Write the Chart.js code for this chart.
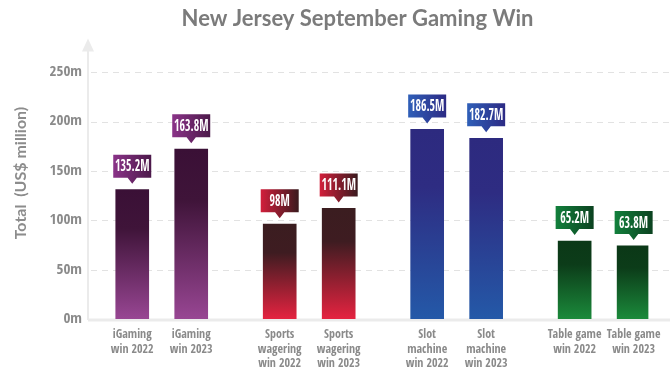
<!DOCTYPE html>
<html><head><meta charset="utf-8">
<script src="https://cdn.jsdelivr.net/npm/chart.js@4/dist/chart.umd.min.js"></script>
<style>html,body{margin:0;padding:0;background:#fff}#wrap{width:670px;height:380px;position:relative}</style>
</head><body><div id="wrap"><canvas id="c"></canvas></div>
<script>
// ---- data ----
const categories = ['', ['iGaming','win 2022'], '', ['iGaming','win 2023'], '', '',
  ['Sports','wagering','win 2022'], '', ['Sports','wagering','win 2023'], '', '',
  ['Slot','machine','win 2022'], '', ['Slot','machine','win 2023'], '', '',
  ['Table game','win 2022'], '', ['Table game','win 2023']];
const winValues = [null, 131, null, 172, null, null, 96, null, 112, null, null, 192, null, 183, null, null, 79, null, 74];
const calloutLabels = [null, '135.2M', null, '163.8M', null, null, '98M', null, '111.1M', null, null, '186.5M', null, '182.7M', null, null, '65.2M', null, '63.8M'];
const yTickValues = [0, 50, 100, 150, 200, 250];
const yTickSuffix = 'm';
const chartTitle = 'New Jersey September Gaming Win';
const yAxisTitle = 'Total  (US$ million)';

// ---- styles ----
const condFamily = '"Open Sans Condensed", "Roboto Condensed", "DejaVu Sans Condensed", sans-serif';
const groupStyles = {
  'iGaming':    {bar: ['#3a1036', '#3f1439', '#984693'], box: ['#8a3388', '#4c194a']},
  'Sports':     {bar: ['#3b1d20', '#3e1c21', '#e52340'], box: ['#d21f3b', '#3a1a1e']},
  'Slot':       {bar: ['#2d2a7f', '#2e2c82', '#2459a8'], box: ['#2f5fb8', '#2c2a84']},
  'Table game': {bar: ['#0b3817', '#0c3c19', '#1b8a3b'], box: ['#12803c', '#0b4220']}
};
function styleFor(i) {
  const c = categories[i];
  if (!Array.isArray(c)) return null;
  return groupStyles[c[0]];
}

const calloutPlugin = {
  id: 'callouts',
  beforeDatasetsDraw(chart) {
    const {ctx, chartArea: ca, scales: {y}} = chart;
    ctx.save();
    ctx.strokeStyle = '#e2e2e2';
    ctx.lineWidth = 1;
    ctx.setLineDash([6, 5]);
    yTickValues.forEach(v => {
      if (v === 0) return;
      const py = Math.round(y.getPixelForValue(v)) + 0.5;
      ctx.beginPath(); ctx.moveTo(ca.left + 3, py); ctx.lineTo(chart.width, py); ctx.stroke();
    });
    ctx.setLineDash([]);
    const by = y.getPixelForValue(0);
    ctx.strokeStyle = '#ebebeb';
    ctx.lineWidth = 3;
    ctx.beginPath(); ctx.moveTo(ca.left, by + 1); ctx.lineTo(chart.width, by + 1); ctx.stroke();
    ctx.fillStyle = '#ebebeb';
    ctx.beginPath();
    ctx.moveTo(ca.left, ca.top - 12);
    ctx.lineTo(ca.left - 6, ca.top + 1);
    ctx.lineTo(ca.left + 6, ca.top + 1);
    ctx.closePath(); ctx.fill();
    ctx.restore();
  },
  afterDatasetsDraw(chart) {
    const {ctx} = chart;
    const meta = chart.getDatasetMeta(0);
    ctx.save();
    ctx.font = 'bold 16px ' + condFamily;
    const sx = Math.min(1, 5.5 / ctx.measureText('0').width);
    meta.data.forEach((bar, i) => {
      const txt = calloutLabels[i];
      const st = styleFor(i);
      if (!txt || !st || winValues[i] == null) return;
      const cx = bar.x, top = bar.y;
      const w = 38, h = 23;
      const bottom = top - 12, boxTop = bottom - h;
      const g = ctx.createLinearGradient(cx - w / 2, 0, cx + w / 2, 0);
      g.addColorStop(0, st.box[0]); g.addColorStop(1, st.box[1]);
      ctx.fillStyle = g;
      ctx.beginPath();
      ctx.rect(cx - w / 2, boxTop, w, h);
      ctx.moveTo(cx - 5, bottom - 0.5);
      ctx.lineTo(cx + 5, bottom - 0.5);
      ctx.lineTo(cx, top - 6);
      ctx.closePath();
      ctx.fill();
      ctx.save();
      ctx.translate(cx, boxTop + h / 2 + 1);
      ctx.scale(sx, 1);
      ctx.fillStyle = '#ffffff';
      ctx.font = 'bold 16px ' + condFamily;
      ctx.textAlign = 'center';
      ctx.textBaseline = 'middle';
      ctx.fillText(txt, 0, 0);
      ctx.restore();
    });
    ctx.restore();
  }
};

new Chart(document.getElementById('c'), {
  type: 'bar',
  data: {
    labels: categories,
    datasets: [{
      data: winValues,
      barThickness: 33,
      borderWidth: 0,
      backgroundColor: (c) => {
        const st = styleFor(c.dataIndex);
        if (!st) return 'rgba(0,0,0,0)';
        const chart = c.chart;
        if (!chart.chartArea) return st.bar[0];
        const y = chart.scales.y;
        const v = winValues[c.dataIndex];
        const top = y.getPixelForValue(v), bot = y.getPixelForValue(0);
        const g = chart.ctx.createLinearGradient(0, top, 0, bot);
        g.addColorStop(0, st.bar[0]);
        g.addColorStop(0.3, st.bar[1]);
        g.addColorStop(1, st.bar[2]);
        return g;
      }
    }]
  },
  options: {
    responsive: true,
    maintainAspectRatio: false,
    animation: false,
    layout: {padding: {left: 0, right: 21.5, top: 0, bottom: 0}},
    plugins: {
      legend: {display: false},
      tooltip: {enabled: false},
      title: {
        display: true,
        text: chartTitle + '    ',
        fullSize: false,
        color: '#7b7b7b',
        font: {family: 'Lato, "Open Sans", sans-serif', size: 22, weight: 'bold'},
        padding: {top: 6, bottom: 18}
      }
    },
    scales: {
      x: {
        grid: {display: false, drawTicks: false},
        border: {display: false},
        offset: true,
        ticks: {
          autoSkip: false,
          maxRotation: 0,
          minRotation: 0,
          padding: 9,
          color: '#8a8a8a',
          font: {family: condFamily, size: 12, weight: 'bold', lineHeight: 1.2}
        },
        afterFit(s) { s.height = 61; }
      },
      y: {
        min: 0,
        max: 272,
        grid: {display: false, drawTicks: false},
        border: {display: true, color: '#ebebeb', width: 2},
        afterBuildTicks(s) { s.ticks = yTickValues.map(v => ({value: v})); },
        ticks: {
          padding: 6,
          color: '#8a8a8a',
          font: {family: condFamily, size: 15, weight: 'bold'},
          callback: v => v + yTickSuffix
        },
        title: {
          display: true,
          text: '      ' + yAxisTitle,
          color: '#8c8c8c',
          font: {family: 'Lato, "Open Sans", sans-serif', size: 16, weight: 'bold'},
          padding: {top: 11, bottom: 0}
        },
        afterFit(s) { s.width = 88; }
      }
    }
  },
  plugins: [calloutPlugin]
});
</script>
</body></html>
